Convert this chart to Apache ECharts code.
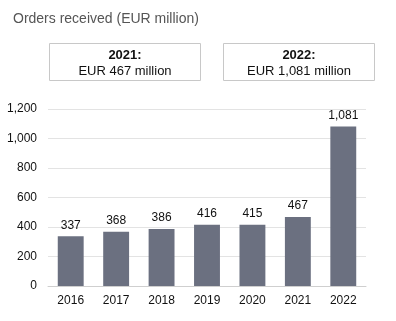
<!DOCTYPE html>
<html><head><meta charset="utf-8">
<script src="https://cdn.jsdelivr.net/npm/echarts@6/dist/echarts.min.js"></script>
<style>html,body{margin:0;padding:0;background:#fff}#c{width:396px;height:321px}</style>
</head><body><div id="c"></div>
<script>
const categories = ['2016','2017','2018','2019','2020','2021','2022'];
const values = [337, 368, 386, 416, 415, 467, 1081];
const yTicks = [0, 200, 400, 600, 800, 1000, 1200];
const titleText = 'Orders received (EUR million)';
const boxTitles = ['2021:', '2022:'];
const boxTexts = ['EUR 467 million', 'EUR 1,081 million'];

const fmt = v => v.toLocaleString('en-US');
const chart = echarts.init(document.getElementById('c'));
const font = 'Liberation Sans, Arial, sans-serif';
function box(x, i) {
  return {
    type: 'group', left: x, top: 43,
    children: [
      { type: 'rect', shape: { x: 0, y: 0, width: 151, height: 37 },
        style: { fill: '#fff', stroke: '#c8c8c8', lineWidth: 1 } },
      { type: 'text', x: 75.5, y: 12, style: { text: boxTitles[i], fill: '#111', font: 'bold 13px ' + font, align: 'center', verticalAlign: 'middle' } },
      { type: 'text', x: 75.5, y: 28, style: { text: boxTexts[i], fill: '#111', font: '13px ' + font, align: 'center', verticalAlign: 'middle' } }
    ]
  };
}
chart.setOption({
  animation: false,
  title: { text: titleText, left: 8, top: 7, textStyle: { fontFamily: font, fontSize: 14, fontWeight: 'normal', color: '#555' } },
  graphic: [box(49, 0), box(223, 1)],
  grid: { left: 48, right: 30, top: 109, bottom: 35, containLabel: false },
  xAxis: {
    type: 'category', data: categories,
    axisLine: { lineStyle: { color: '#cfcfcf' } },
    axisTick: { show: false },
    axisLabel: { color: '#111', fontFamily: font, fontSize: 12, margin: 9 }
  },
  yAxis: {
    type: 'value', min: yTicks[0], max: yTicks[yTicks.length - 1], interval: 200,
    axisLine: { show: false }, axisTick: { show: false },
    splitLine: { lineStyle: { color: '#e3e3e3' } },
    axisLabel: { color: '#111', fontFamily: font, fontSize: 12, margin: 11, formatter: v => fmt(v) }
  },
  series: [{
    type: 'bar', data: values, barWidth: '57%',
    itemStyle: { color: '#6b7080' },
    label: { show: true, position: 'top', distance: 5, color: '#111', fontFamily: font, fontSize: 12, formatter: p => fmt(p.value) }
  }]
});
</script></body></html>
